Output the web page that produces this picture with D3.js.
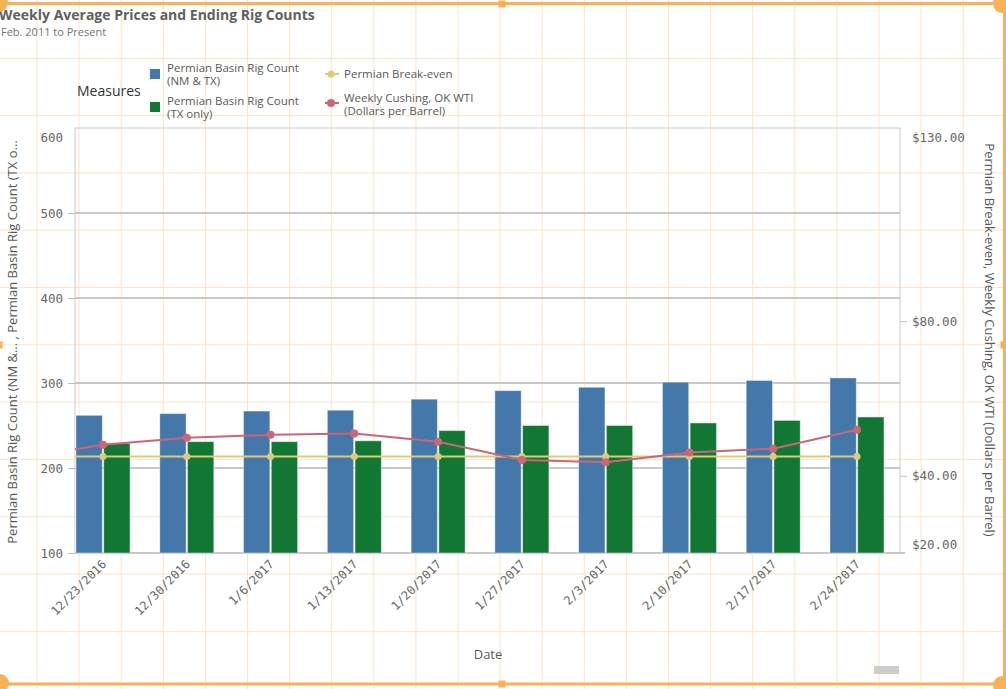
<!DOCTYPE html>
<meta charset="utf-8">
<style>
body {
  margin: 0;
  background: #fff;
}
svg {
  font-family: "Open Sans", sans-serif;
}
.tick text {
  font-family: "DejaVu Sans Mono", monospace;
  font-size: 12.5px;
  fill: #666;
}
.axis path {
  display: none;
}
.axis line {
  stroke: #bdbdbd;
}
.legend text {
  font-size: 11.5px;
  fill: #595959;
}
</style>
<body>
<script src="https://cdn.jsdelivr.net/npm/d3@7"></script>
<script>
// values
var dates = ["12/23/2016", "12/30/2016", "1/6/2017", "1/13/2017", "1/20/2017",
             "1/27/2017", "2/3/2017", "2/10/2017", "2/17/2017", "2/24/2017"];
var rigNMTX = [262, 264, 267, 268, 281, 291, 295, 301, 303, 306];
var rigTX = [229, 231, 231, 232, 244, 250, 250, 253, 256, 260];
var breakEven = [45, 45, 45, 45, 45, 45, 45, 45, 45, 45];
var wti = [48.0, 49.8, 50.6, 50.9, 48.8, 44.1, 43.5, 46.0, 47.0, 51.9];
// week before the first one, scrolled off to the left
var prevBreakEven = 45;
var prevWti = 44.5;

var leftTicks = [100, 200, 300, 400, 500, 600];
var rightTicks = [20, 40, 80, 130];

var width = 1006, height = 689;
var plot = {left: 75, right: 900, top: 128, bottom: 553};

var svg = d3.select("body").append("svg")
    .attr("width", width)
    .attr("height", height);

// qlik edit-mode grid
var gridX = d3.range(0, 23).map(function(k) { return 37 + 42.1 * k; });
var gridY = d3.range(0, 11).map(function(k) { return 58.3 + 57.3 * k; });
var editGrid = svg.append("g").attr("stroke", "#fde4c8").attr("stroke-width", 1);
editGrid.selectAll(".gx").data(gridX).enter().append("line")
    .attr("x1", function(d) { return d; }).attr("x2", function(d) { return d; })
    .attr("y1", 0).attr("y2", height);
editGrid.selectAll(".gy").data(gridY).enter().append("line")
    .attr("x1", 0).attr("x2", width)
    .attr("y1", function(d) { return d; }).attr("y2", function(d) { return d; });

var x = d3.scaleBand()
    .domain(dates)
    .range([76, 884])
    .paddingInner(0.355)
    .paddingOuter(0);
var x1 = d3.scaleBand()
    .domain(["nmtx", "tx"])
    .range([0, x.bandwidth()])
    .paddingInner(0.05);
var yL = d3.scaleLinear().domain([100, 600]).range([plot.bottom, plot.top]);
var yR = d3.scaleLinear().domain([20, 130]).range([plot.bottom, plot.top]);

// plot frame + gridlines
svg.append("rect")
    .attr("x", plot.left).attr("y", plot.top)
    .attr("width", plot.right - plot.left).attr("height", plot.bottom - plot.top)
    .attr("fill", "none").attr("stroke", "#cacaca");

svg.append("g")
  .selectAll("line")
    .data(leftTicks.slice(1, 5))
  .enter().append("line")
    .attr("x1", plot.left).attr("x2", plot.right)
    .attr("y1", function(d) { return yL(d); }).attr("y2", function(d) { return yL(d); })
    .attr("stroke", "#c8c8c8").attr("stroke-width", 2);

svg.append("line")
    .attr("x1", plot.left).attr("x2", 905)
    .attr("y1", plot.bottom).attr("y2", plot.bottom)
    .attr("stroke", "#c8c8c8").attr("stroke-width", 2);

// bars
var group = svg.append("g").selectAll(".grp")
    .data(dates)
  .enter().append("g")
    .attr("transform", function(d) { return "translate(" + x(d) + ",0)"; });

group.append("rect")
    .attr("x", x1("nmtx"))
    .attr("y", function(d, i) { return yL(rigNMTX[i]); })
    .attr("width", x1.bandwidth())
    .attr("height", function(d, i) { return plot.bottom - yL(rigNMTX[i]); })
    .attr("fill", "#4477aa")
    .attr("stroke", "rgba(255,255,255,0.45)");

group.append("rect")
    .attr("x", x1("tx"))
    .attr("y", function(d, i) { return yL(rigTX[i]); })
    .attr("width", x1.bandwidth())
    .attr("height", function(d, i) { return plot.bottom - yL(rigTX[i]); })
    .attr("fill", "#117733")
    .attr("stroke", "rgba(255,255,255,0.45)");

// lines
svg.append("clipPath").attr("id", "clip")
  .append("rect")
    .attr("x", plot.left).attr("y", plot.top)
    .attr("width", plot.right - plot.left).attr("height", plot.bottom - plot.top);

function cx(d) { return x(d) + x.bandwidth() / 2; }
var prevX = cx(dates[0]) - x.step();
var line = d3.line();

var lines = svg.append("g").attr("clip-path", "url(#clip)");

lines.append("path")
    .attr("d", line([[prevX, yR(prevBreakEven)]].concat(dates.map(function(d, i) { return [cx(d), yR(breakEven[i])]; }))))
    .attr("fill", "none").attr("stroke", "#ddcc77").attr("stroke-width", 2);

lines.append("path")
    .attr("d", line([[prevX, yR(prevWti)]].concat(dates.map(function(d, i) { return [cx(d), yR(wti[i])]; }))))
    .attr("fill", "none").attr("stroke", "#cc6677").attr("stroke-width", 2);

lines.selectAll(".be").data(dates).enter().append("circle")
    .attr("cx", cx).attr("cy", function(d, i) { return yR(breakEven[i]); })
    .attr("r", 3.5).attr("fill", "#ddcc77");

lines.selectAll(".wti").data(dates).enter().append("circle")
    .attr("cx", cx).attr("cy", function(d, i) { return yR(wti[i]); })
    .attr("r", 4).attr("fill", "#cc6677");

// axes
var leftAxis = svg.append("g")
    .attr("class", "axis")
    .attr("transform", "translate(" + plot.left + ",0)")
    .call(d3.axisLeft(yL).tickValues(leftTicks).tickSize(7).tickPadding(5));
leftAxis.selectAll(".tick").filter(function(d) { return d === 600; })
    .each(function() {
      d3.select(this).select("line").remove();
      d3.select(this).select("text").attr("dy", "1.1em");
    });

var rightAxis = svg.append("g")
    .attr("class", "axis")
    .attr("transform", "translate(" + plot.right + ",0)")
    .call(d3.axisRight(yR).tickValues(rightTicks).tickSize(7).tickPadding(5)
      .tickFormat(function(d) { return "$" + d3.format(".2f")(d); }));
rightAxis.selectAll(".tick").filter(function(d) { return d === 130; })
    .each(function() {
      d3.select(this).select("line").remove();
      d3.select(this).select("text").attr("dy", "1.1em");
    });
rightAxis.selectAll(".tick").filter(function(d) { return d === 20; })
    .each(function() {
      d3.select(this).select("line").remove();
      d3.select(this).select("text").attr("dy", "-0.35em");
    });

svg.append("g")
    .selectAll("text")
    .data(dates)
  .enter().append("text")
    .attr("class", "xlabel")
    .attr("transform", function(d) { return "translate(" + (cx(d) + 4) + ",565) rotate(-45)"; })
    .attr("text-anchor", "end")
    .style("font-family", "DejaVu Sans Mono, monospace")
    .style("font-size", "12px")
    .attr("fill", "#666")
    .text(function(d) { return d; });

// axis titles
svg.append("text")
    .attr("transform", "translate(17,342) rotate(-90)")
    .attr("text-anchor", "middle")
    .attr("font-size", 13)
    .attr("fill", "#595959")
    .text("Permian Basin Rig Count (NM &... , Permian Basin Rig Count (TX o...");

svg.append("text")
    .attr("transform", "translate(985,340) rotate(90)")
    .attr("text-anchor", "middle")
    .attr("font-size", 13)
    .attr("fill", "#595959")
    .text("Permian Break-even, Weekly Cushing, OK WTI (Dollars per Barrel)");

svg.append("text")
    .attr("x", 488).attr("y", 659)
    .attr("text-anchor", "middle")
    .attr("font-size", 13)
    .attr("fill", "#595959")
    .text("Date");

// title
svg.append("text")
    .attr("x", -1).attr("y", 20)
    .attr("font-size", 14).attr("font-weight", "bold")
    .attr("fill", "#606060")
    .text("Weekly Average Prices and Ending Rig Counts");
svg.append("text")
    .attr("x", 1).attr("y", 36)
    .attr("font-size", 11)
    .attr("fill", "#737373")
    .text("Feb. 2011 to Present");

// legend
var legend = svg.append("g").attr("class", "legend");
legend.append("text")
    .attr("x", 77).attr("y", 96)
    .style("font-size", "14px").style("fill", "#333")
    .text("Measures");

legend.append("rect").attr("x", 150).attr("y", 69).attr("width", 10).attr("height", 10).attr("fill", "#4477aa");
legend.append("text").attr("x", 167).attr("y", 72).text("Permian Basin Rig Count");
legend.append("text").attr("x", 167).attr("y", 85).text("(NM & TX)");
legend.append("rect").attr("x", 150).attr("y", 102).attr("width", 10).attr("height", 10).attr("fill", "#117733");
legend.append("text").attr("x", 167).attr("y", 105).text("Permian Basin Rig Count");
legend.append("text").attr("x", 167).attr("y", 118).text("(TX only)");

legend.append("line").attr("x1", 325).attr("x2", 339).attr("y1", 74).attr("y2", 74)
    .attr("stroke", "#ddcc77").attr("stroke-width", 2);
legend.append("circle").attr("cx", 331).attr("cy", 74).attr("r", 3.5).attr("fill", "#ddcc77");
legend.append("text").attr("x", 344).attr("y", 78).text("Permian Break-even");
legend.append("line").attr("x1", 325).attr("x2", 339).attr("y1", 103).attr("y2", 103)
    .attr("stroke", "#cc6677").attr("stroke-width", 2);
legend.append("circle").attr("cx", 331).attr("cy", 103).attr("r", 4).attr("fill", "#cc6677");
legend.append("text").attr("x", 344).attr("y", 102).text("Weekly Cushing, OK WTI");
legend.append("text").attr("x", 344).attr("y", 115).text("(Dollars per Barrel)");

// scrollbar thumb
svg.append("rect").attr("x", 874).attr("y", 666).attr("width", 25).attr("height", 8).attr("fill", "#cccccc");

// selection frame with handles
var orange = "#f8b157";
var frame = svg.append("g");
frame.append("line").attr("x1", 0).attr("x2", 1000).attr("y1", 3.5).attr("y2", 3.5)
    .attr("stroke", orange).attr("stroke-width", 3);
frame.append("line").attr("x1", 0).attr("x2", 1000).attr("y1", 684).attr("y2", 684)
    .attr("stroke", orange).attr("stroke-width", 3);
frame.append("line").attr("x1", 1004.5).attr("x2", 1004.5).attr("y1", 4).attr("y2", 684)
    .attr("stroke", orange).attr("stroke-width", 3);
[[-1, 3], [1002, 4], [0, 683], [1002, 685]].forEach(function(p) {
  frame.append("circle").attr("cx", p[0]).attr("cy", p[1]).attr("r", 9).attr("fill", orange);
});
[[502, 4], [502, 684], [1004, 345], [-1, 345]].forEach(function(p) {
  frame.append("rect").attr("x", p[0] - 3.5).attr("y", p[1] - 3.5).attr("width", 7).attr("height", 7).attr("fill", orange);
});
</script>
